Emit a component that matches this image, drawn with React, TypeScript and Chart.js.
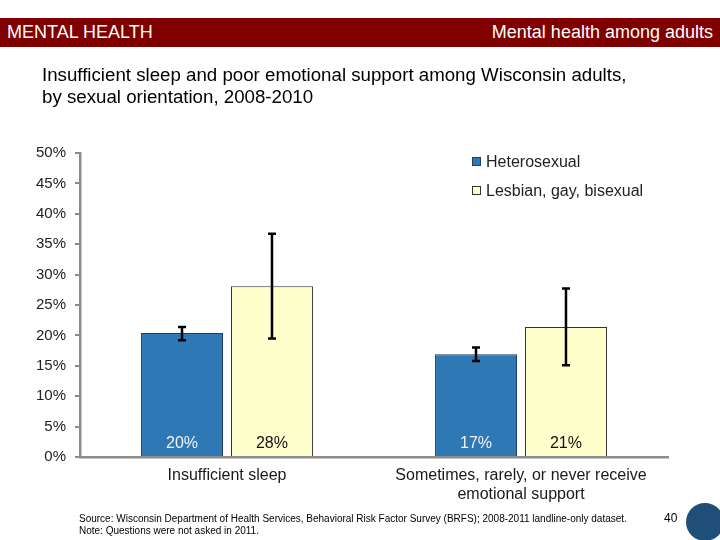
import React, { useEffect, useRef } from "react";
import { Chart, registerables } from "chart.js";

Chart.register(...registerables);

const categories: string[][] = [["Insufficient sleep"], ["Sometimes, rarely, or never receive", "emotional support"]];
const seriesNames = ["Heterosexual", "Lesbian, gay, bisexual"];
const hetValues = [20.4, 16.9];
const lgbValues = [28.1, 21.4];
const hetLow = [19.2, 15.8];
const hetHigh = [21.4, 18.0];
const lgbLow = [19.5, 15.1];
const lgbHigh = [36.7, 27.7];
const yTicks = [0, 5, 10, 15, 20, 25, 30, 35, 40, 45, 50];

const FONT = "'Liberation Sans', Arial, sans-serif";
const colors = ["#2E78B5", "#FFFFCC"];
const borders = ["#1E3F60", "#333333"];
const labelColors = ["#F2F2F2", "#111111"];

const errorLows = [hetLow, lgbLow];
const errorHighs = [hetHigh, lgbHigh];

const overlayPlugin = {
  id: "overlay",
  afterDatasetsDraw(chart: any) {
    const ctx = chart.ctx;
    const y = chart.scales.y;
    const area = chart.chartArea;
    chart.data.datasets.forEach((ds: any, di: number) => {
      const meta = chart.getDatasetMeta(di);
      meta.data.forEach((bar: any, i: number) => {
        const x = bar.x;
        const yl = y.getPixelForValue(errorLows[di][i]);
        const yh = y.getPixelForValue(errorHighs[di][i]);
        ctx.save();
        ctx.strokeStyle = "#000";
        ctx.lineWidth = 2.5;
        ctx.beginPath();
        ctx.moveTo(x, yl);
        ctx.lineTo(x, yh);
        ctx.moveTo(x - 4, yl);
        ctx.lineTo(x + 4, yl);
        ctx.moveTo(x - 4, yh);
        ctx.lineTo(x + 4, yh);
        ctx.stroke();
        ctx.fillStyle = labelColors[di];
        ctx.font = "16px " + FONT;
        ctx.textAlign = "center";
        ctx.textBaseline = "middle";
        ctx.fillText(Math.round(ds.data[i]) + "%", x, area.bottom - 13);
        ctx.restore();
      });
    });
    // legend
    ctx.save();
    const lx = 472;
    const ly = [161.5, 190.5];
    seriesNames.forEach((name, i) => {
      ctx.fillStyle = colors[i];
      ctx.fillRect(lx, ly[i] - 4.5, 9, 9);
      ctx.strokeStyle = borders[i];
      ctx.lineWidth = 1;
      ctx.strokeRect(lx + 0.5, ly[i] - 4, 8, 8);
      ctx.fillStyle = "#222";
      ctx.font = "16px " + FONT;
      ctx.textAlign = "left";
      ctx.textBaseline = "middle";
      ctx.fillText(name, lx + 14, ly[i] + 1);
    });
    ctx.restore();
  },
};

export default function App() {
  const ref = useRef<HTMLCanvasElement>(null);
  useEffect(() => {
    document.body.style.margin = "0";
    const chart = new Chart(ref.current!, {
      type: "bar",
      data: {
        labels: categories,
        datasets: [
          {
            label: seriesNames[0],
            data: hetValues,
            backgroundColor: colors[0],
            borderColor: borders[0],
            borderWidth: 1,
            categoryPercentage: 0.612,
            barPercentage: 0.911,
          },
          {
            label: seriesNames[1],
            data: lgbValues,
            backgroundColor: colors[1],
            borderColor: borders[1],
            borderWidth: 1,
            categoryPercentage: 0.612,
            barPercentage: 0.911,
          },
        ],
      },
      options: {
        animation: false,
        responsive: false,
        maintainAspectRatio: false,
        layout: { padding: { left: 0, top: 153, right: 52, bottom: 13 } },
        plugins: { legend: { display: false }, tooltip: { enabled: false } },
        scales: {
          x: {
            grid: { display: false, drawTicks: false },
            border: { color: "#8C8C8C", width: 2.5 },
            ticks: {
              color: "#1a1a1a",
              font: { family: FONT, size: 16, lineHeight: 1.2 },
              padding: 9,
              maxRotation: 0,
              autoSkip: false,
            },
            afterFit: (s: any) => {
              s.height = 70;
            },
          },
          y: {
            min: 0,
            max: 50,
            afterBuildTicks: (s: any) => {
              s.ticks = yTicks.map((v) => ({ value: v }));
            },
            grid: { drawOnChartArea: false, drawTicks: true, tickLength: 5, color: "#8C8C8C", lineWidth: 2 },
            border: { color: "#8C8C8C", width: 2.5 },
            ticks: {
              color: "#222",
              font: { family: FONT, size: 15 },
              padding: 9,
              callback: (v: any) => v + "%",
            },
            afterFit: (s: any) => {
              s.width = 80;
            },
          },
        },
      },
      plugins: [overlayPlugin],
    });
    return () => chart.destroy();
  }, []);

  return (
    <div style={{ position: "relative", width: 720, height: 540, background: "#fff", overflow: "hidden", fontFamily: FONT }}>
      <canvas ref={ref} width={720} height={540} style={{ position: "absolute", left: 0, top: 0, width: 720, height: 540 }} />
      <div style={{ position: "absolute", left: 0, top: 18, width: 720, height: 29, background: "#800000" }} />
      <div style={{ position: "absolute", left: 7, top: 22, color: "#fff", fontSize: 18, lineHeight: "20px" }}>MENTAL HEALTH</div>
      <div style={{ position: "absolute", right: 7, top: 22, color: "#fff", fontSize: 18, lineHeight: "20px" }}>Mental health among adults</div>
      <div style={{ position: "absolute", left: 42, top: 64, color: "#000", fontSize: 18.7, lineHeight: "22px" }}>
        Insufficient sleep and poor emotional support among Wisconsin adults,
        <br />
        by sexual orientation, 2008-2010
      </div>
      <div style={{ position: "absolute", left: 79, top: 513, color: "#000", fontSize: 10, lineHeight: "12px" }}>
        Source: Wisconsin Department of Health Services, Behavioral Risk Factor Survey (BRFS); 2008-2011 landline-only dataset.
        <br />
        Note: Questions were not asked in 2011.
      </div>
      <div style={{ position: "absolute", left: 664, top: 511, color: "#000", fontSize: 12 }}>40</div>
      <div style={{ position: "absolute", left: 686, top: 503, width: 38, height: 38, borderRadius: "50%", background: "#1F4E79" }} />
    </div>
  );
}
